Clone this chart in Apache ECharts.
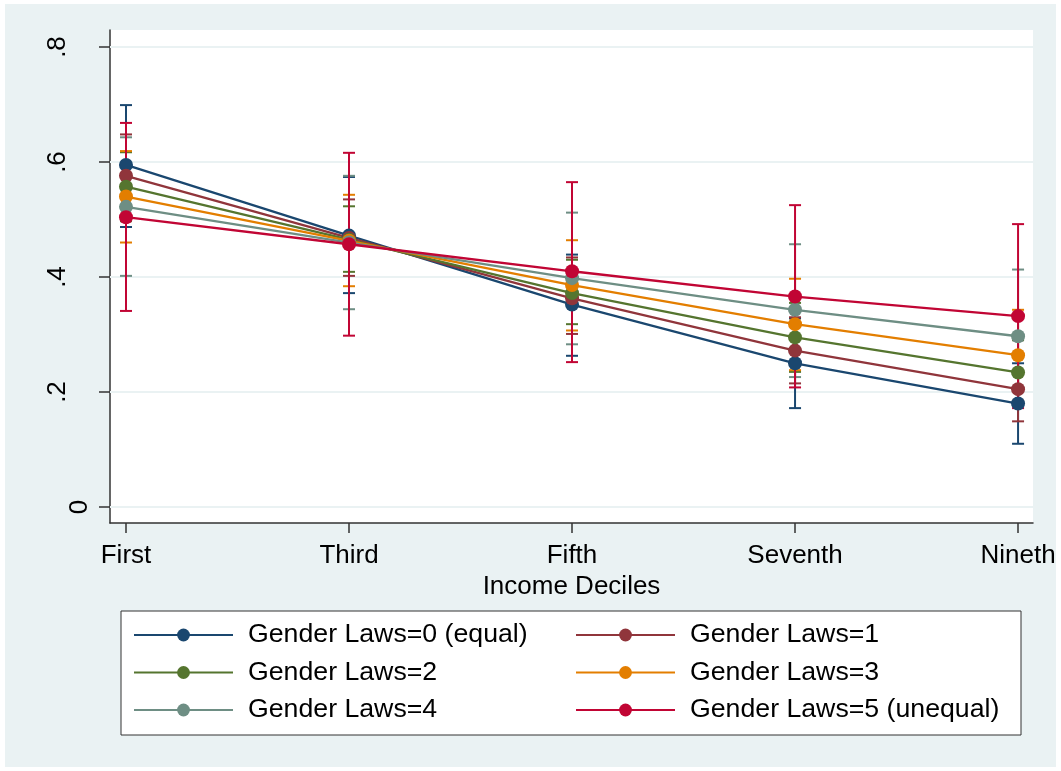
<!DOCTYPE html>
<html>
<head>
<meta charset="utf-8">
<script src="https://cdn.jsdelivr.net/npm/echarts@6/dist/echarts.min.js"></script>
<style>
  html, body { margin: 0; padding: 0; background: #fff; }
  #chart { width: 1061px; height: 771px; }
</style>
</head>
<body>
<div id="chart"></div>
<script>
// categories on the x axis (placed at 0..4)
const deciles = ['First', 'Third', 'Fifth', 'Seventh', 'Nineth'];
const xPos = [0, 1, 2, 3, 4];

const yTicks = [0, 0.2, 0.4, 0.6, 0.8];
const yTickLabels = ['0', '.2', '.4', '.6', '.8'];

const names = ['Gender Laws=0 (equal)', 'Gender Laws=1', 'Gender Laws=2',
               'Gender Laws=3', 'Gender Laws=4', 'Gender Laws=5 (unequal)'];
const colors = ['#1a476f', '#90353b', '#55752f', '#e37e00', '#6e8e84', '#c10534'];

// predicted means
const g0 = [0.595, 0.472, 0.352, 0.250, 0.180];
const g1 = [0.576, 0.468, 0.363, 0.272, 0.205];
const g2 = [0.557, 0.465, 0.372, 0.295, 0.234];
const g3 = [0.540, 0.463, 0.386, 0.318, 0.264];
const g4 = [0.522, 0.460, 0.398, 0.343, 0.297];
const g5 = [0.504, 0.457, 0.410, 0.366, 0.332];

// confidence intervals (lower / upper)
const g0Lo = [0.487, 0.372, 0.263, 0.172, 0.110];
const g0Hi = [0.699, 0.574, 0.439, 0.328, 0.250];
const g1Lo = [0.504, 0.402, 0.301, 0.215, 0.149];
const g1Hi = [0.648, 0.535, 0.434, 0.330, 0.261];
const g2Lo = [0.497, 0.409, 0.318, 0.235, 0.178];
const g2Hi = [0.617, 0.523, 0.430, 0.355, 0.290];
const g3Lo = [0.460, 0.384, 0.307, 0.238, 0.185];
const g3Hi = [0.619, 0.543, 0.464, 0.397, 0.343];
const g4Lo = [0.402, 0.344, 0.283, 0.226, 0.180];
const g4Hi = [0.643, 0.576, 0.512, 0.457, 0.413];
const g5Lo = [0.341, 0.298, 0.252, 0.208, 0.172];
const g5Hi = [0.668, 0.616, 0.565, 0.525, 0.492];

const means = [g0, g1, g2, g3, g4, g5];
const lows = [g0Lo, g1Lo, g2Lo, g3Lo, g4Lo, g5Lo];
const highs = [g0Hi, g1Hi, g2Hi, g3Hi, g4Hi, g5Hi];

const FONT = 'Liberation Sans, Arial, sans-serif';
const BG = '#eaf2f3';

const chart = echarts.init(document.getElementById('chart'));

// error bars (rcap)
const ciSeries = means.map((m, k) => ({
  type: 'custom',
  name: 'ci' + k,
  z: 2,
  silent: true,
  data: xPos.map((x, i) => [x, lows[k][i], highs[k][i]]),
  encode: { x: 0, y: [1, 2] },
  renderItem: (params, api) => {
    const lo = api.coord([api.value(0), api.value(1)]);
    const hi = api.coord([api.value(0), api.value(2)]);
    const w = 6;
    const st = { stroke: colors[k], lineWidth: 2 };
    return {
      type: 'group',
      children: [
        { type: 'line', shape: { x1: lo[0], y1: lo[1], x2: hi[0], y2: hi[1] }, style: st },
        { type: 'line', shape: { x1: lo[0] - w, y1: lo[1], x2: lo[0] + w, y2: lo[1] }, style: st },
        { type: 'line', shape: { x1: hi[0] - w, y1: hi[1], x2: hi[0] + w, y2: hi[1] }, style: st }
      ]
    };
  }
}));

// gridlines drawn as markLine on the first ci series
ciSeries[0].markLine = {
  silent: true,
  z: 1,
  symbol: ['none', 'none'],
  label: { show: false },
  lineStyle: { type: 'solid', color: BG, width: 2 },
  data: yTicks.map(v => ({ yAxis: v }))
};

const lineSeries = means.map((m, k) => ({
  type: 'line',
  name: names[k],
  z: 3,
  data: xPos.map((x, i) => [x, m[i]]),
  symbol: 'circle',
  symbolSize: 14,
  showSymbol: true,
  color: colors[k],
  itemStyle: { color: colors[k] },
  lineStyle: { color: colors[k], width: 2.3 },
  emphasis: { disabled: true }
}));

const legendText = {
  fontSize: 26.7, fontFamily: FONT, color: '#000',
  padding: [0, 0, 0, 10], lineHeight: 37.5
};

chart.setOption({
  animation: false,
  backgroundColor: '#fff',
  graphic: [
    { type: 'rect', z: -100, shape: { x: 5, y: 4, width: 1051, height: 763 }, style: { fill: BG } },
    { type: 'rect', z: 1, shape: { x: 121, y: 611, width: 900, height: 124 }, style: { fill: '#fff', stroke: '#333', lineWidth: 1 } }
  ],
  grid: {
    left: 110, top: 30, right: 28, bottom: 248,
    show: true, backgroundColor: '#fff', borderWidth: 0
  },
  xAxis: {
    type: 'value',
    min: -0.0717, max: 4.067,
    name: 'Income Deciles',
    nameLocation: 'middle',
    nameGap: 44,
    nameTextStyle: { fontSize: 26, fontFamily: FONT, color: '#000' },
    axisLine: { onZero: false, lineStyle: { color: '#333', width: 1.5 } },
    axisTick: { length: 10, customValues: xPos, lineStyle: { color: '#333', width: 1.5 } },
    axisLabel: {
      customValues: xPos, margin: 20, fontSize: 26, fontFamily: FONT, color: '#000',
      formatter: v => deciles[Math.round(v)]
    },
    splitLine: { show: false }
  },
  yAxis: {
    type: 'value',
    min: -0.0278, max: 0.8296,
    axisLine: { show: true, onZero: false, lineStyle: { color: '#333', width: 1.5 } },
    axisTick: { show: true, length: 11, customValues: yTicks, lineStyle: { color: '#333', width: 1.5 } },
    axisLabel: {
      customValues: yTicks, rotate: 90, margin: 17,
      fontSize: 26, fontFamily: FONT, color: '#000',
      formatter: v => {
        const i = yTicks.findIndex(t => Math.abs(t - v) < 1e-6);
        const s = yTickLabels[i];
        return v === 0 ? '{z|' + s + '}' : '{n|' + s + '}';
      },
      rich: {
        z: { fontSize: 26, fontFamily: FONT, color: '#000' },
        n: { fontSize: 26, fontFamily: FONT, color: '#000', padding: [0, 0, 22, 0] }
      }
    },
    splitLine: { show: false }
  },
  legend: [
    {
      orient: 'vertical', left: 133, top: 616.25, padding: 0, itemGap: 0,
      itemWidth: 99, itemHeight: 16, z: 4,
      data: [names[0], names[2], names[4]],
      textStyle: legendText
    },
    {
      orient: 'vertical', left: 575, top: 616.25, padding: 0, itemGap: 0,
      itemWidth: 99, itemHeight: 16, z: 4,
      data: [names[1], names[3], names[5]],
      textStyle: legendText
    }
  ],
  series: [...ciSeries, ...lineSeries]
});
</script>
</body>
</html>
